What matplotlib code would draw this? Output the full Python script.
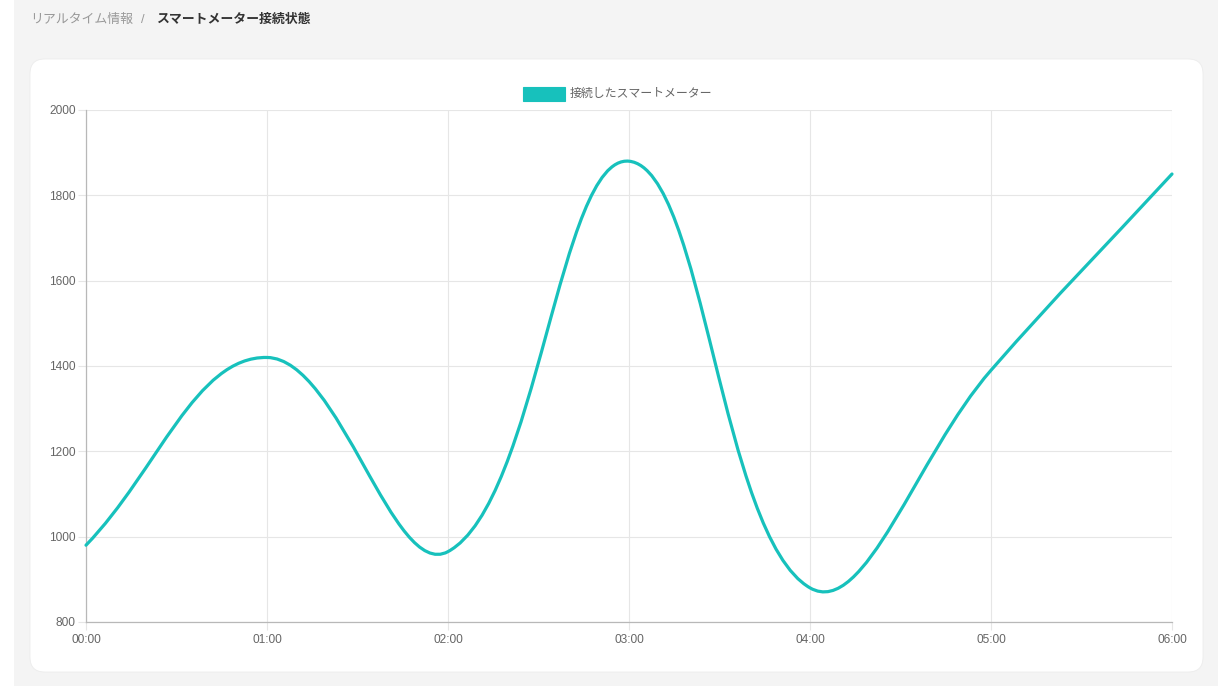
import numpy as np
import matplotlib.pyplot as plt
from matplotlib.patches import Rectangle, FancyBboxPatch
from matplotlib.path import Path
from matplotlib.patches import PathPatch

plt.rcParams['font.family'] = ['Liberation Sans', 'Noto Sans CJK JP', 'DejaVu Sans']

# ==== データ ====
times = ["00:00", "01:00", "02:00", "03:00", "04:00", "05:00", "06:00"]
counts = [980, 1420, 965, 1880, 880, 1390, 1850]
y_ticks = [800, 1000, 1200, 1400, 1600, 1800, 2000]
legend_label = "接続したスマートメーター"
crumb_parent = "リアルタイム情報"
crumb_current = "スマートメーター接続状態"

# ==== 基本設定 ====
W, H = 1230, 686
line_color = '#17c1bc'
grid_color = '#e6e6e6'
axis_color = '#b8b8b8'
tick_color = '#666666'
tension = 0.4


def fx(px):
    return px / W


def fy(py):
    return 1 - py / H


fig = plt.figure(figsize=(W / 100, H / 100), dpi=100, facecolor='white')

# page background and card
fig.patches.append(Rectangle((fx(14), 0), fx(1218) - fx(14), 1, transform=fig.transFigure,
                             facecolor='#f4f4f4', edgecolor='none', zorder=0))
fig.patches.append(FancyBboxPatch((fx(30), fy(672)), fx(1203) - fx(30), fy(59) - fy(672),
                                  boxstyle="round,pad=0,rounding_size=0.012",
                                  mutation_aspect=W / H, transform=fig.transFigure,
                                  facecolor='white', edgecolor='#ececec', linewidth=0.6, zorder=1))

# breadcrumb
fig.text(fx(30), fy(20), crumb_parent, fontsize=9.3, color='#999999', va='center', ha='left')
fig.text(fx(141), fy(20), "/", fontsize=9.3, color='#999999', va='center', ha='left')
fig.text(fx(156), fy(20), crumb_current, fontsize=9.3, color='#333333', va='center', ha='left',
         fontweight='bold')

# ==== 绘图区 ====
ax = fig.add_axes([fx(86), fy(622), fx(1172) - fx(86), fy(110) - fy(622)])
ax.set_facecolor('none')
ax.set_zorder(2)
x = np.arange(len(times))
ax.set_xlim(0, len(times) - 1)
ax.set_ylim(800, 2000)
ax.set_xticks(x)
ax.set_xticklabels(times)
ax.set_yticks(y_ticks)
ax.grid(True, color=grid_color, linewidth=0.8)
ax.set_axisbelow(True)
for s in ['top', 'right']:
    ax.spines[s].set_visible(False)
for s in ['left', 'bottom']:
    ax.spines[s].set_color(axis_color)
    ax.spines[s].set_linewidth(0.9)
ax.tick_params(axis='both', length=6, width=0.8, color=grid_color, labelcolor=tick_color,
               labelsize=8.6)
ax.tick_params(axis='y', pad=1.5)
ax.tick_params(axis='x', pad=2.5)

# spline through points (tension 0.4), computed in pixel space
pts = ax.transData.transform(np.column_stack([x, counts]))
n = len(pts)
cp_prev = np.zeros_like(pts)
cp_next = np.zeros_like(pts)
for i in range(n):
    prev = pts[i - 1] if i > 0 else pts[i]
    nxt = pts[i + 1] if i < n - 1 else pts[i]
    d01 = np.hypot(*(pts[i] - prev))
    d12 = np.hypot(*(nxt - pts[i]))
    tot = d01 + d12
    s01 = d01 / tot if tot else 0
    s12 = d12 / tot if tot else 0
    cp_prev[i] = pts[i] - tension * s01 * (nxt - prev)
    cp_next[i] = pts[i] + tension * s12 * (nxt - prev)

verts = [pts[0]]
codes = [Path.MOVETO]
for i in range(n - 1):
    verts += [cp_next[i], cp_prev[i + 1], pts[i + 1]]
    codes += [Path.CURVE4] * 3
verts = ax.transData.inverted().transform(np.array(verts))
ax.add_patch(PathPatch(Path(verts, codes), facecolor='none', edgecolor=line_color,
                       linewidth=2.3, capstyle='round', joinstyle='round', clip_on=False, zorder=3))

# legend
fig.patches.append(Rectangle((fx(523), fy(101)), fx(565) - fx(523), fy(87) - fy(101),
                             transform=fig.transFigure, facecolor=line_color,
                             edgecolor=line_color, linewidth=0.8, zorder=3))
fig.text(fx(570), fy(94), legend_label, fontsize=8.6, color=tick_color, va='center', ha='left')

plt.savefig('out.png', dpi=100, facecolor=fig.get_facecolor())
